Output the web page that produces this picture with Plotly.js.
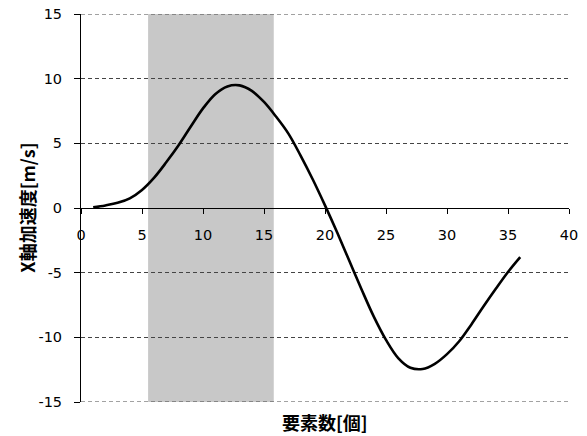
<!DOCTYPE html>
<html>
<head>
<meta charset="utf-8">
<script src="https://cdn.plot.ly/plotly-3.0.1.min.js"></script>
<style>
html,body{margin:0;padding:0;background:#fff;}
#chart{width:587px;height:436px;}
</style>
</head>
<body>
<div id="chart"></div>
<script>
const elementIndex = [1,2,3,4,5,6,7,8,9,10,11,12,13,14,15,16,17,18,19,20,21,22,23,24,25,26,27,28,29,30,31,32,33,34,35,36];
const accelX = [0.05,0.2,0.4,0.75,1.4,2.35,3.55,4.85,6.3,7.7,8.8,9.4,9.48,9.05,8.2,7.05,5.75,4.05,2.2,0.2,-1.9,-4.1,-6.3,-8.4,-10.2,-11.6,-12.35,-12.45,-12.05,-11.3,-10.3,-9.0,-7.6,-6.25,-4.95,-3.8];
const shadedRange = [5.5, 15.8];
const xTickVals = [0,5,10,15,20,25,30,35,40];
const xTickText = ["0","5","10","15","20","25","30","35","40"];
const yTickVals = [-15,-10,-5,0,5,10,15];
const yTickText = ["-15","-10","-5","0","5","10","15"];
const xTitle = "要素数[個]";
const yTitle = "X軸加速度[m/s]";

const tickFont = {family: "DejaVu Sans, Verdana, sans-serif", size: 14.5, color: "#000"};
const titleFont = {family: "Noto Sans CJK JP, sans-serif", size: 18, color: "#000", weight: "bold"};
const gridStyle = {color: "#444", width: 1, dash: "4px,3px"};

const trace = {
  x: elementIndex,
  y: accelX,
  type: "scatter",
  mode: "lines",
  line: {color: "#000", width: 2.6, shape: "spline", smoothing: 1.0},
  hoverinfo: "skip"
};

const yMin = yTickVals[0], yMax = yTickVals[yTickVals.length - 1];

const layout = {
  width: 587, height: 436,
  margin: {l: 81, r: 18, t: 14, b: 34},
  paper_bgcolor: "#fff",
  plot_bgcolor: "#fff",
  showlegend: false,
  xaxis: {
    range: [0, 40],
    tickvals: xTickVals, ticktext: xTickText,
    showgrid: false, zeroline: false,
    showline: true, linecolor: "#000", linewidth: 1,
    ticks: "outside", ticklen: 5, tickcolor: "#000", tickwidth: 1,
    tickfont: tickFont,
    anchor: "free", position: 0.5,
    ticklabelstandoff: 9
  },
  yaxis: {
    range: [yMin, yMax],
    tickvals: yTickVals, ticktext: yTickText,
    showgrid: true, gridcolor: gridStyle.color, gridwidth: 1, griddash: gridStyle.dash,
    zeroline: false,
    showline: true, linecolor: "#000", linewidth: 1,
    ticks: "outside", ticklen: 6, tickcolor: "#000", tickwidth: 1,
    tickfont: tickFont,
    ticklabelstandoff: 9
  },
  shapes: [
    {type: "rect", xref: "x", yref: "y",
     x0: shadedRange[0], x1: shadedRange[1], y0: yMin, y1: yMax,
     fillcolor: "#c8c8c8", line: {width: 0}, layer: "below"},
    {type: "line", xref: "paper", yref: "y", x0: 0, x1: 1, y0: yMax, y1: yMax,
     line: gridStyle, layer: "above"},
    {type: "line", xref: "paper", yref: "y", x0: 0, x1: 1, y0: yMin, y1: yMin,
     line: gridStyle, layer: "above"}
  ],
  annotations: [
    {text: xTitle, xref: "paper", yref: "paper", x: 0.5, y: -0.0515,
     xanchor: "center", yanchor: "middle", showarrow: false, font: titleFont},
    {text: yTitle, xref: "paper", yref: "paper", x: -0.1114, y: 0.5,
     xanchor: "center", yanchor: "middle", textangle: -90, showarrow: false, font: titleFont}
  ]
};

Plotly.newPlot("chart", [trace], layout, {displayModeBar: false, staticPlot: true});
</script>
</body>
</html>
